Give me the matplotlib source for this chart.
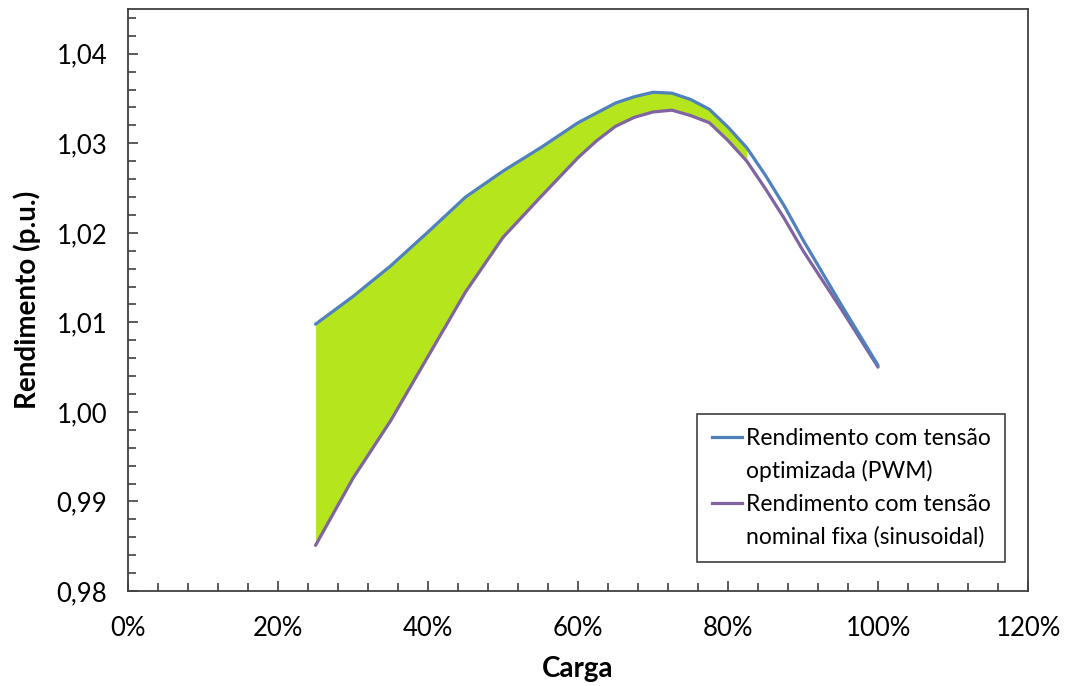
import numpy as np
import matplotlib.pyplot as plt
from matplotlib.lines import Line2D
from matplotlib.ticker import MultipleLocator, FuncFormatter

plt.rcParams['font.family'] = ['Lato', 'DejaVu Sans']

# dados
carga = [25, 30, 35, 40, 45, 50, 55, 60, 62.5, 65, 67.5, 70, 72.5, 75, 77.5, 80,
         82.5, 85, 87.5, 90, 95, 100]
rend_pwm = [1.0098, 1.0129, 1.0163, 1.0201, 1.0240, 1.0269, 1.0295, 1.0323, 1.0334,
            1.0345, 1.0352, 1.0357, 1.0356, 1.0349, 1.0338, 1.0318, 1.0295, 1.0264,
            1.0230, 1.0192, 1.0121, 1.0052]
rend_sin = [0.9851, 0.9926, 0.9990, 1.0062, 1.0134, 1.0195, 1.0240, 1.0284, 1.0303,
            1.0319, 1.0329, 1.0335, 1.0337, 1.0331, 1.0323, 1.0303, 1.0280, 1.0249,
            1.0216, 1.0180, 1.0116, 1.0050]

lbl_pwm = ['Rendimento com tensão', 'optimizada (PWM)']
lbl_sin = ['Rendimento com tensão', 'nominal fixa (sinusoidal)']

c_pwm = '#4F81BD'
c_sin = '#8064A2'
c_fill = '#B5E61D'
c_axis = '#404040'

x = np.array(carga)
fig = plt.figure(figsize=(10.68, 6.86), dpi=100)
ax = fig.add_axes([0.1199, 0.1385, 0.8427, 0.8484])

ax.fill_between(x, rend_sin, rend_pwm, where=x <= 82.5, color=c_fill, lw=0, zorder=1)
ax.plot(x, rend_pwm, color=c_pwm, lw=2.3, zorder=3, solid_capstyle='round',
        solid_joinstyle='round')
ax.plot(x, rend_sin, color=c_sin, lw=2.3, zorder=2, solid_capstyle='round',
        solid_joinstyle='round')

ax.set_xlim(0, 120)
ax.set_ylim(0.98, 1.045)
ax.xaxis.set_major_locator(MultipleLocator(20))
ax.xaxis.set_minor_locator(MultipleLocator(4))
ax.yaxis.set_major_locator(MultipleLocator(0.01))
ax.yaxis.set_minor_locator(MultipleLocator(0.002))
ax.xaxis.set_major_formatter(FuncFormatter(lambda v, p: f'{v:.0f}%'))
ax.yaxis.set_major_formatter(FuncFormatter(lambda v, p: f'{v:.2f}'.replace('.', ',')))

ax.tick_params(which='both', direction='in', color=c_axis, width=1.2, labelsize=18.5)
ax.tick_params(which='major', length=7.5)
ax.tick_params(which='minor', length=5.5)
ax.tick_params(axis='x', which='both', pad=18)
ax.tick_params(axis='y', which='both', pad=15)
for s in ax.spines.values():
    s.set_color(c_axis)
    s.set_linewidth(1.3)

ax.set_xlabel('Carga', fontsize=20, fontweight='bold')
ax.set_ylabel('Rendimento (p.u.)', fontsize=20, fontweight='bold')
ax.xaxis.set_label_coords(0.5, -0.112)
ax.yaxis.set_label_coords(-0.097, 0.5)

handles = [Line2D([], [], color=c_pwm, lw=2.3), Line2D([], [], color='none'),
           Line2D([], [], color=c_sin, lw=2.3), Line2D([], [], color='none')]
leg = ax.legend(handles, lbl_pwm + lbl_sin, loc='lower right',
                bbox_to_anchor=(0.9744, 0.0498), fontsize=16.5, frameon=True,
                fancybox=False, framealpha=1, edgecolor=c_axis,
                handlelength=1.35, handletextpad=0.15, labelspacing=0.5,
                borderpad=0.62, borderaxespad=0)
leg.get_frame().set_linewidth(1.2)

fig.savefig('out.png', dpi=100)
